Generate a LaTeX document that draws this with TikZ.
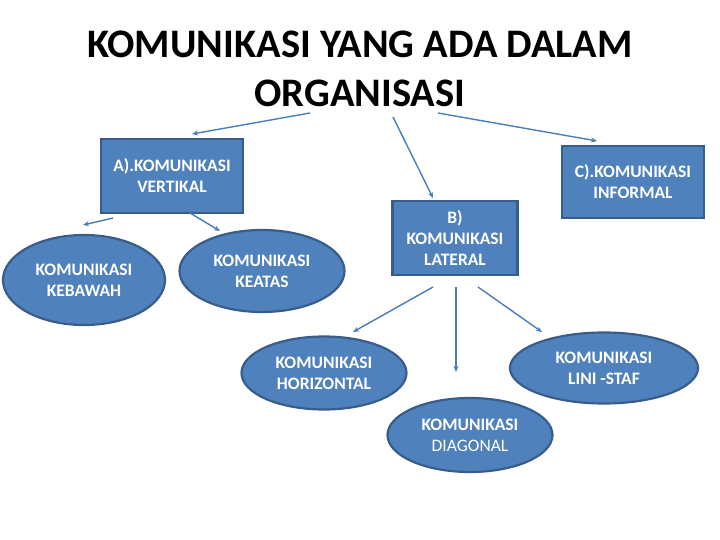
\documentclass[tikz,border=0pt]{standalone}
\usepackage{fontspec}
\setmainfont{Carlito}
\usetikzlibrary{arrows.meta,shapes.geometric}
\definecolor{BoxBlue}{RGB}{79,129,189}
\definecolor{EdgeBlue}{RGB}{56,93,138}
\definecolor{ArrBlue}{RGB}{74,126,187}

\begin{document}
\begin{tikzpicture}[
  x=1pt,y=-1pt,
  title/.style={align=center,font=\fontsize{40.5}{49}\selectfont\bfseries,inner sep=0pt},
  box/.style={rectangle,draw=EdgeBlue,line width=2.2pt,fill=BoxBlue,text=white,align=center,inner sep=0pt,font=\fontsize{17.5}{21}\selectfont\bfseries},
  oval/.style={ellipse,draw=EdgeBlue,line width=2.2pt,fill=BoxBlue,text=white,align=center,inner sep=0pt,font=\fontsize{17.5}{21}\selectfont\bfseries},
  arr/.style={-{Stealth[length=6pt,width=5pt]},line width=1.4pt,draw=ArrBlue}
]
\useasboundingbox (0,0) rectangle (720,540);
\node[title] (title) at (360,69) {KOMUNIKASI YANG ADA DALAM\\ORGANISASI};
\node[box,minimum width=142pt,minimum height=74pt] (vert) at (172,176) {A).KOMUNIKASI\\VERTIKAL};
\node[box,minimum width=125pt,minimum height=74pt] (lat) at (455,238) {B)\\KOMUNIKASI\\LATERAL};
\node[box,minimum width=142pt,minimum height=72pt] (inf) at (633,182) {C).KOMUNIKASI\\INFORMAL};
\node[oval,minimum width=162pt,minimum height=90pt] (bawah) at (84,280) {KOMUNIKASI\\KEBAWAH};
\node[oval,minimum width=165pt,minimum height=82pt] (atas) at (262,271) {KOMUNIKASI\\KEATAS};
\node[oval,minimum width=165pt,minimum height=73pt] (hor) at (324,373) {KOMUNIKASI\\HORIZONTAL};
\node[oval,minimum width=165pt,minimum height=74pt] (diag) at (470,435) {KOMUNIKASI\\\mdseries DIAGONAL};
\node[oval,minimum width=188pt,minimum height=71pt] (staf) at (604,368) {KOMUNIKASI\\LINI -STAF};
% free ends of the arrows
\coordinate (t1) at (310,113);
\coordinate (t2) at (393,117);
\coordinate (t3) at (438,113);
\coordinate (v1) at (192,134);
\coordinate (l1) at (433,198);
\coordinate (i1) at (597,141);
\coordinate (v2) at (113,218);
\coordinate (v3) at (190,213);
\coordinate (b1) at (83,225);
\coordinate (a1) at (220,231);
\coordinate (l2) at (433,287);
\coordinate (l3) at (456,287);
\coordinate (l4) at (478,287);
\coordinate (h1) at (353,332);
\coordinate (d1) at (456,372);
\coordinate (s1) at (542,332);
\draw[arr] (t1) -- (v1);
\draw[arr] (t2) -- (l1);
\draw[arr] (t3) -- (i1);
\draw[arr] (v2) -- (b1);
\draw[arr] (v3) -- (a1);
\draw[arr] (l2) -- (h1);
\draw[arr] (l3) -- (d1);
\draw[arr] (l4) -- (s1);
\end{tikzpicture}
\end{document}
